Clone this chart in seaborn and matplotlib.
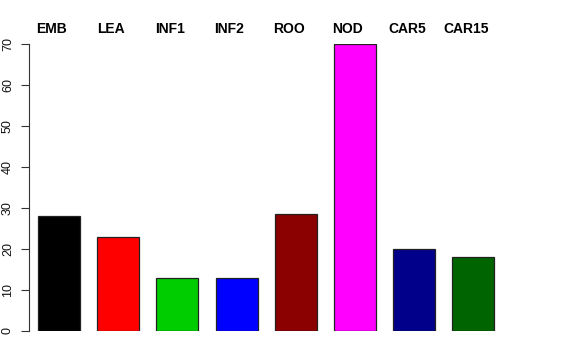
import matplotlib
matplotlib.use("Agg")
import matplotlib.pyplot as plt
import seaborn as sns
import pandas as pd

categories = ["EMB", "LEA", "INF1", "INF2", "ROO", "NOD", "CAR5", "CAR15"]
values = [28.0, 23.0, 13.0, 13.0, 28.5, 70.0, 20.0, 18.0]
colors = ["#000000", "#FF0000", "#00CD00", "#0000FF", "#8B0000", "#FF00FF", "#00008B", "#006400"]
yticks = [0, 10, 20, 30, 40, 50, 60, 70]

sns.set_theme(style="white")
plt.rcParams["font.family"] = ["Liberation Sans", "DejaVu Sans"]

df = pd.DataFrame({"cat": categories, "val": values})

fig = plt.figure(figsize=(5.76, 3.6), dpi=100)
W, H = 576, 360
left_px, right_px = 29, 546
bottom_px, top_px = 331, 44
ax = fig.add_axes([left_px / W, (H - bottom_px) / H,
                   (right_px - left_px) / W, (bottom_px - top_px) / H])

sns.barplot(data=df, x="cat", y="val", hue="cat", palette=colors,
            order=categories, hue_order=categories, legend=False,
            width=0.71, edgecolor="#222222", linewidth=0.9, ax=ax, saturation=1)

ax.set_xlim(-0.507, 8.23)
ax.set_ylim(0, 70)
ax.set_xlabel("")
ax.set_ylabel("")
ax.set_xticks([])
ax.set_yticks(yticks)
ax.set_yticklabels([str(t) for t in yticks], rotation=90, va="center", fontsize=9)
ax.tick_params(axis="y", length=5.8, width=0.8, color="#333333", pad=5, left=True,
               labelcolor="#111111")
for s in ["top", "right", "bottom"]:
    ax.spines[s].set_visible(False)
ax.spines["left"].set_bounds(0, 70)
ax.spines["left"].set_color("#333333")
ax.spines["left"].set_linewidth(0.8)

label_y = 1 + (top_px - 29) / (bottom_px - top_px)
for i, c in enumerate(categories):
    ax.text(i - 0.12, label_y, c, transform=ax.get_xaxis_transform(),
            ha="center", va="center", fontsize=10, fontweight="bold",
            color="black", clip_on=False)

fig.savefig("out.png", dpi=100)
